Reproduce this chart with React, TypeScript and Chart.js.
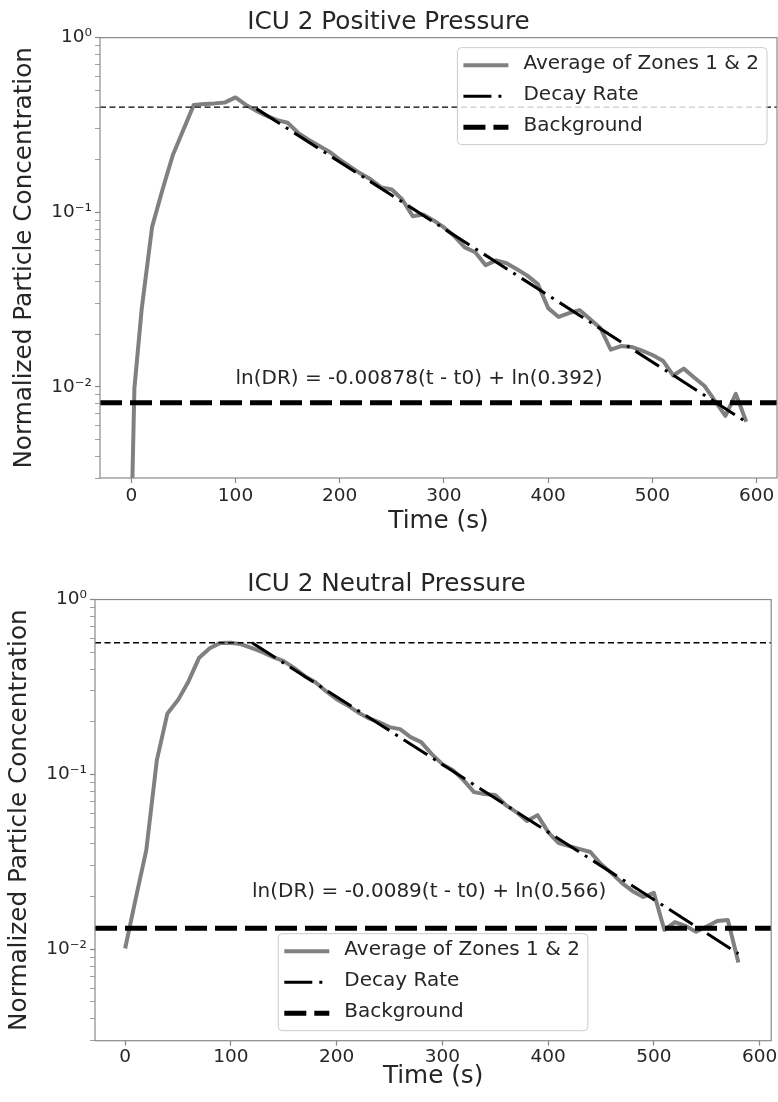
import React, { useEffect, useRef } from 'react';
import { Chart, registerables } from 'chart.js';

Chart.register(...registerables);

const FONT = "'DejaVu Sans', 'Liberation Sans', sans-serif";
const TEXT = '#262626';

// ---------- Top panel: ICU 2 Positive Pressure ----------
const TOP_TITLE = 'ICU 2 Positive Pressure';
const TOP_TIME = [0, 3, 10, 20, 30, 40, 50, 60, 70, 80, 90, 100, 110, 120, 130, 140, 150, 160, 170, 180, 190, 200,
  210, 220, 230, 240, 250, 260, 270, 280, 290, 300, 310, 320, 330, 340, 350, 360, 370, 380, 390, 400,
  410, 420, 430, 440, 450, 460, 470, 480, 490, 500, 510, 520, 530, 540, 550, 560, 570, 580, 590];
const TOP_AVG = [0.0015, 0.0098, 0.0279, 0.0824, 0.135, 0.2136, 0.2966, 0.4119, 0.4173, 0.4201, 0.4256, 0.4546, 0.4119,
  0.3807, 0.3565, 0.337, 0.3252, 0.285, 0.2602, 0.2404, 0.2222, 0.2, 0.1824, 0.1664, 0.1538, 0.1384, 0.1348,
  0.1182, 0.0949, 0.0971, 0.0897, 0.0818, 0.0727, 0.0629, 0.0589, 0.0497, 0.053, 0.051, 0.0471, 0.0433, 0.0387,
  0.0282, 0.0251, 0.0264, 0.0275, 0.0244, 0.0217, 0.0163, 0.0171, 0.0169, 0.0161, 0.0152, 0.0141, 0.0116,
  0.0127, 0.0113, 0.0101, 0.0083, 0.0068, 0.0091, 0.0063];
const TOP_DECAY_TIME = [120, 590];
const TOP_DECAY = [0.392, 0.00628];
const TOP_BACKGROUND = 0.0081;
const TOP_PEAK = 0.4;
const TOP_X_RANGE = [-30, 619.5];
const TOP_EQUATION = 'ln(DR) = -0.00878(t - t0) + ln(0.392)';
const TOP_EQUATION_AT = [100, 0.0103];

// ---------- Bottom panel: ICU 2 Neutral Pressure ----------
const BOT_TITLE = 'ICU 2 Neutral Pressure';
const BOT_TIME = [0, 10, 20, 30, 40, 50, 60, 70, 80, 90, 100, 110, 120, 130, 140, 150, 160, 170, 180, 190, 200,
  210, 220, 230, 240, 250, 260, 270, 280, 290, 300, 310, 320, 330, 340, 350, 360, 370, 380, 390, 400,
  410, 420, 430, 440, 450, 460, 470, 480, 490, 500, 510, 520, 530, 540, 550, 560, 570, 580];
const BOT_AVG = [0.0101, 0.0195, 0.0369, 0.1207, 0.2232, 0.266, 0.3413, 0.465, 0.526, 0.565, 0.566, 0.555, 0.527,
  0.4998, 0.468, 0.444, 0.4049, 0.3644, 0.3369, 0.2992, 0.2694, 0.2489, 0.227, 0.2098, 0.199, 0.1863, 0.1815,
  0.1633, 0.1529, 0.1306, 0.1145, 0.1058, 0.0928, 0.0792, 0.0772, 0.0762, 0.0668, 0.0609, 0.0541, 0.0585,
  0.0468, 0.0405, 0.0389, 0.0374, 0.036, 0.0307, 0.0273, 0.0239, 0.0215, 0.0199, 0.021, 0.0129, 0.0143,
  0.0136, 0.0126, 0.0135, 0.0145, 0.0147, 0.0084];
const BOT_DECAY_TIME = [120, 580];
const BOT_DECAY = [0.566, 0.00944];
const BOT_BACKGROUND = 0.0132;
const BOT_PEAK = 0.566;
const BOT_X_RANGE = [-28.5, 611];
const BOT_EQUATION = 'ln(DR) = -0.0089(t - t0) + ln(0.566)';
const BOT_EQUATION_AT = [120, 0.0199];

// ---------- shared axes ----------
const SERIES_LABELS = ['Average of Zones 1 & 2', 'Decay Rate', 'Background'];
const X_LABEL = 'Time (s)';
const Y_LABEL = 'Normalized Particle Concentration';
const Y_RANGE = [0.003, 1];
const X_TICKS = [0, 100, 200, 300, 400, 500, 600];
const Y_MAJOR_TICKS = [0.01, 0.1, 1];
const Y_MAJOR_LABELS = ['10⁻²', '10⁻¹', '10⁰'];
const Y_MINOR_TICKS = [0.003, 0.004, 0.005, 0.006, 0.007, 0.008, 0.009,
  0.02, 0.03, 0.04, 0.05, 0.06, 0.07, 0.08, 0.09,
  0.2, 0.3, 0.4, 0.5, 0.6, 0.7, 0.8, 0.9];

const yTickLabel = (v: number) => {
  const i = Y_MAJOR_TICKS.findIndex((m) => Math.abs(m - v) / m < 1e-6);
  return i >= 0 ? Y_MAJOR_LABELS[i] : '';
};

const framePlugin = {
  id: 'frame',
  afterDatasetsDraw(chart: any) {
    const { ctx, chartArea: a } = chart;
    ctx.save();
    ctx.strokeStyle = '#8a8a8a';
    ctx.lineWidth = 1.2;
    ctx.setLineDash([]);
    ctx.strokeRect(a.left, a.top, a.right - a.left, a.bottom - a.top);
    ctx.restore();
  },
};

const equationPlugin = {
  id: 'equation',
  afterDatasetsDraw(chart: any, _args: any, opts: any) {
    const { ctx, scales } = chart;
    ctx.save();
    ctx.font = `20px ${FONT}`;
    ctx.fillStyle = TEXT;
    ctx.textAlign = 'left';
    ctx.textBaseline = 'alphabetic';
    ctx.fillText(opts.text, scales.x.getPixelForValue(opts.at[0]), scales.y.getPixelForValue(opts.at[1]));
    ctx.restore();
  },
};

const legendPlugin = {
  id: 'mplLegend',
  afterDatasetsDraw(chart: any, _args: any, opts: any) {
    const { ctx, chartArea: a } = chart;
    const items = chart.data.datasets.filter((d: any) => d.label);
    ctx.save();
    ctx.font = `20px ${FONT}`;
    const tw = Math.max(...items.map((d: any) => ctx.measureText(d.label).width));
    const padL = 6, sample = 45, gap = 15, padR = 8, rowH = 31, edge = 17.5, off = 10;
    const w = padL + sample + gap + tw + padR;
    const h = edge * 2 + rowH * (items.length - 1);
    let x: number, y: number;
    if (opts.loc === 'upper right') {
      x = a.right - off - w;
      y = a.top + off;
    } else {
      x = (a.left + a.right) / 2 - w / 2;
      y = a.bottom - off - h;
    }
    ctx.beginPath();
    ctx.roundRect(x, y, w, h, 4);
    ctx.fillStyle = 'rgba(255,255,255,0.8)';
    ctx.fill();
    ctx.strokeStyle = '#cccccc';
    ctx.lineWidth = 1;
    ctx.stroke();
    items.forEach((d: any, i: number) => {
      const cy = y + edge + i * rowH;
      ctx.beginPath();
      ctx.setLineDash(d.borderDash || []);
      ctx.lineWidth = d.borderWidth;
      ctx.strokeStyle = d.borderColor;
      ctx.lineCap = 'butt';
      ctx.moveTo(x + padL, cy);
      ctx.lineTo(x + padL + sample, cy);
      ctx.stroke();
      ctx.setLineDash([]);
      ctx.fillStyle = TEXT;
      ctx.textAlign = 'left';
      ctx.textBaseline = 'middle';
      ctx.fillText(d.label, x + padL + sample + gap, cy - 1.4);
    });
    ctx.restore();
  },
};

type Panel = {
  title: string;
  time: number[];
  avg: number[];
  decayTime: number[];
  decay: number[];
  background: number;
  peak: number;
  xRange: number[];
  equation: string;
  equationAt: number[];
  legendLoc: string;
  titlePad: { top: number; bottom: number };
  yAxisWidth: number;
  yTitlePad: number;
  xAxisHeight: number;
  xTickPad: number;
  xTitlePad: number;
  padRight: number;
  padBottom: number;
};

const PANELS: Panel[] = [
  {
    title: TOP_TITLE, time: TOP_TIME, avg: TOP_AVG, decayTime: TOP_DECAY_TIME, decay: TOP_DECAY,
    background: TOP_BACKGROUND, peak: TOP_PEAK, xRange: TOP_X_RANGE, equation: TOP_EQUATION,
    equationAt: TOP_EQUATION_AT, legendLoc: 'upper right', titlePad: { top: 8, bottom: 0 },
    yAxisWidth: 100, yTitlePad: 10, xAxisHeight: 62, xTickPad: 2.2, xTitlePad: 4, padRight: 1, padBottom: 11,
  },
  {
    title: BOT_TITLE, time: BOT_TIME, avg: BOT_AVG, decayTime: BOT_DECAY_TIME, decay: BOT_DECAY,
    background: BOT_BACKGROUND, peak: BOT_PEAK, xRange: BOT_X_RANGE, equation: BOT_EQUATION,
    equationAt: BOT_EQUATION_AT, legendLoc: 'lower center', titlePad: { top: 18.5, bottom: 0.4 },
    yAxisWidth: 95, yTitlePad: 4.4, xAxisHeight: 55, xTickPad: 0.7, xTitlePad: 4.4, padRight: 5, padBottom: 6.3,
  },
];

function buildChart(canvas: HTMLCanvasElement, p: Panel) {
  const tickFont = { family: FONT, size: 18.5 };
  const labelFont = { family: FONT, size: 24.7, weight: 'normal' as const };
  return new Chart(canvas, {
    type: 'line',
    data: {
      datasets: [
        {
          label: SERIES_LABELS[0],
          data: p.time.map((t, i) => ({ x: t, y: p.avg[i] })),
          borderColor: '#808080', borderWidth: 4, pointRadius: 0, borderJoinStyle: 'round',
          tension: 0, order: 4, clip: 0,
        },
        {
          label: SERIES_LABELS[1],
          data: p.decayTime.map((t, i) => ({ x: t, y: p.decay[i] })),
          borderColor: '#000000', borderWidth: 3, borderDash: [28, 7, 3, 7], pointRadius: 0, order: 2, clip: 0,
        },
        {
          label: SERIES_LABELS[2],
          data: [{ x: p.xRange[0], y: p.background }, { x: p.xRange[1], y: p.background }],
          borderColor: '#000000', borderWidth: 5, borderDash: [22, 8], pointRadius: 0, order: 1, clip: 0,
        },
        {
          label: '',
          data: [{ x: p.xRange[0], y: p.peak }, { x: p.xRange[1], y: p.peak }],
          borderColor: '#000000', borderWidth: 1.3, borderDash: [6, 3.5], pointRadius: 0, order: 3, clip: 0,
        },
      ] as any,
    },
    options: {
      animation: false,
      responsive: false,
      devicePixelRatio: 1,
      layout: { padding: { left: 0, top: 0, right: p.padRight, bottom: p.padBottom } },
      plugins: {
        legend: { display: false },
        tooltip: { enabled: false },
        title: {
          display: true, text: p.title, font: labelFont, color: TEXT, padding: p.titlePad,
        },
        mplLegend: { loc: p.legendLoc },
        equation: { text: p.equation, at: p.equationAt },
      } as any,
      scales: {
        x: {
          type: 'linear',
          min: p.xRange[0],
          max: p.xRange[1],
          afterBuildTicks: (s: any) => { s.ticks = X_TICKS.map((v) => ({ value: v })); },
          afterFit: (s: any) => { s.height = p.xAxisHeight; },
          ticks: {
            autoSkip: false, maxRotation: 0, font: tickFont, color: TEXT, padding: p.xTickPad,
            callback: (v: any) => String(v),
          },
          grid: { drawOnChartArea: false, drawTicks: true, tickLength: 5, tickColor: '#888888', tickWidth: 1.2 },
          border: { display: false },
          title: { display: true, text: X_LABEL, font: labelFont, color: TEXT, padding: { top: 0, bottom: p.xTitlePad } },
        },
        y: {
          type: 'logarithmic',
          min: Y_RANGE[0],
          max: Y_RANGE[1],
          afterBuildTicks: (s: any) => {
            s.ticks = [
              ...Y_MINOR_TICKS.map((v) => ({ value: v, major: false })),
              ...Y_MAJOR_TICKS.map((v) => ({ value: v, major: true })),
            ].sort((a, b) => a.value - b.value);
          },
          afterFit: (s: any) => { s.width = p.yAxisWidth; },
          ticks: {
            autoSkip: false, font: tickFont, color: TEXT, padding: 3,
            callback: (v: any) => yTickLabel(Number(v)),
          },
          grid: {
            drawOnChartArea: false, drawTicks: true, tickLength: 5, tickColor: '#888888',
            tickWidth: (c: any) => (c.tick && c.tick.major ? 1.2 : 0.8),
          },
          border: { display: false },
          title: { display: true, text: Y_LABEL, font: labelFont, color: TEXT, padding: { top: p.yTitlePad, bottom: 0 } },
        },
      } as any,
    },
    plugins: [framePlugin, equationPlugin, legendPlugin],
  });
}

export default function App() {
  const topRef = useRef<HTMLCanvasElement>(null);
  const botRef = useRef<HTMLCanvasElement>(null);

  useEffect(() => {
    const charts: Chart[] = [];
    if (topRef.current) charts.push(buildChart(topRef.current, PANELS[0]));
    if (botRef.current) charts.push(buildChart(botRef.current, PANELS[1]));
    return () => charts.forEach((c) => c.destroy());
  }, []);

  return (
    <div style={{ position: 'absolute', left: 0, top: 0, width: 778, height: 1102, background: '#ffffff' }}>
      <canvas ref={topRef} width={778} height={551} style={{ display: 'block', position: 'absolute', left: 0, top: 0 }} />
      <canvas ref={botRef} width={778} height={551} style={{ display: 'block', position: 'absolute', left: 0, top: 551 }} />
    </div>
  );
}
